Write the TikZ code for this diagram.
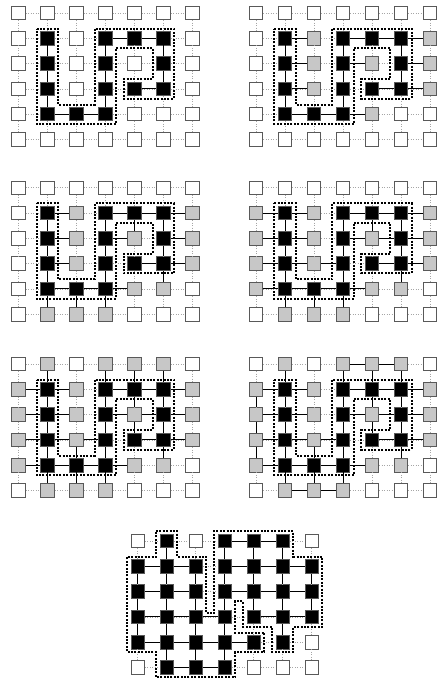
\documentclass[tikz,border=0pt]{standalone}
\usepackage{tikz}
\usetikzlibrary{calc}

\colorlet{cell0}{white}
\colorlet{cell1}{black}
\colorlet{cell2}{black!22}

\newcommand\gx{0.37}
\newcommand\gy{0.38}

% cell kinds, row by row: 0 empty, 1 black, 2 grey
\def\cellsA{{0,0,0,0,0,0,0, 0,1,0,1,1,1,0, 0,1,0,1,0,1,0, 0,1,0,1,1,1,0, 0,1,1,1,0,0,0, 0,0,0,0,0,0,0}}
\def\cellsB{{0,0,0,0,0,0,0, 0,1,2,1,1,1,2, 0,1,2,1,2,1,2, 0,1,2,1,1,1,2, 0,1,1,1,2,0,0, 0,0,0,0,0,0,0}}
\def\cellsC{{0,0,0,0,0,0,0, 0,1,2,1,1,1,2, 0,1,2,1,2,1,2, 0,1,2,1,1,1,2, 0,1,1,1,2,2,0, 0,2,2,2,0,0,0}}
\def\cellsD{{0,0,0,0,0,0,0, 2,1,2,1,1,1,2, 2,1,2,1,2,1,2, 2,1,2,1,1,1,2, 2,1,1,1,2,2,0, 0,2,2,2,0,0,0}}
\def\cellsE{{0,2,0,2,2,2,0, 2,1,2,1,1,1,2, 2,1,2,1,2,1,2, 2,1,2,1,1,1,2, 2,1,1,1,2,2,0, 0,2,2,2,0,0,0}}
\def\cellsG{{0,1,0,1,1,1,0, 1,1,1,1,1,1,1, 1,1,1,1,1,1,1, 1,1,1,1,1,1,1, 1,1,1,1,1,1,0, 0,1,1,1,0,0,0}}

% links: c/r joins (c,r) to its right (h) or lower (v) neighbour
\def\hA{3/1,4/1,4/3,1/4,2/4}
\def\vA{1/1,1/2,1/3,3/1,3/2,3/3,5/1,5/2}
\edef\hB{\hA,1/1,1/2,1/3,3/2,3/4,5/1,5/2,5/3}
\edef\vC{\vA,4/1,5/3,1/4,2/4,3/4}
\edef\hD{\hB,0/1,0/2,0/3,0/4,2/3,4/2}
\edef\vE{\vC,1/0,3/0,4/0,5/0,2/3,4/2}
\edef\hF{\hD,3/0,4/0,1/5,2/5}
\edef\vF{\vE,0/1,0/2,0/3}
\edef\vG{\vF,2/1,2/2,6/1,6/2}

\newcommand\drawgrid[4]{%
  \foreach \r in {0,...,5}
    \foreach \c in {0,...,6}{
      \pgfmathtruncatemacro\k{#2[\r*7+\c]}
      \node[sq, fill=cell\k] (#1-\c-\r) at (\c,\r) {};
    }
  \foreach \r in {0,...,5}
    \foreach \c [count=\cn] in {0,...,5}
      \draw[gridline] (#1-\c-\r) -- (#1-\cn-\r);
  \foreach \c in {0,...,6}
    \foreach \r [count=\rn] in {0,...,4}
      \draw[gridline] (#1-\c-\r) -- (#1-\c-\rn);
  \foreach \c/\r in #3{
    \pgfmathtruncatemacro\cn{\c+1}
    \draw[link] (#1-\c-\r) -- (#1-\cn-\r);
  }
  \foreach \c/\r in #4{
    \pgfmathtruncatemacro\rn{\r+1}
    \draw[link] (#1-\c-\r) -- (#1-\c-\rn);
  }
}

\tikzset{
  pics/snake fence/.style={code={
    \draw[fence] (1-\gx,1-\gy) -- (1+\gx,1-\gy) -- (1+\gx,4-\gy) -- (3-\gx,4-\gy)
      -- (3-\gx,1-\gy) -- (5+\gx,1-\gy) -- (5+\gx,3+\gy) -- (4-\gx,3+\gy)
      -- (4-\gx,3-\gy) -- (5-\gx,3-\gy) -- (5-\gx,1+\gy) -- (3+\gx,1+\gy)
      -- (3+\gx,4+\gy) -- (1-\gx,4+\gy) -- cycle;
  }}
}

\begin{document}
\begin{tikzpicture}[
    sq/.style={draw=black!65, line width=0.9pt, minimum size=13.5pt, inner sep=0pt},
    gridline/.style={draw=black!35, line width=0.5pt, dotted},
    link/.style={draw=black, line width=0.9pt},
    fence/.style={draw=black, line width=2pt, dash pattern=on 2pt off 1.4pt},
    grid at/.style={shift={#1}, x=29pt, y=-25.3pt}
  ]
  \useasboundingbox (0,0) rectangle (437pt,-679pt);

  \begin{scope}[grid at={(18.3pt,-13pt)}]
    \drawgrid{a}{\cellsA}{\hA}{\vA}
    \pic {snake fence};
  \end{scope}
  \begin{scope}[grid at={(256pt,-13pt)}]
    \drawgrid{b}{\cellsB}{\hB}{\vA}
    \pic {snake fence};
  \end{scope}
  \begin{scope}[grid at={(18.3pt,-187.7pt)}]
    \drawgrid{c}{\cellsC}{\hB}{\vC}
    \pic {snake fence};
  \end{scope}
  \begin{scope}[grid at={(256pt,-187.7pt)}]
    \drawgrid{d}{\cellsD}{\hD}{\vC}
    \pic {snake fence};
  \end{scope}
  \begin{scope}[grid at={(18.3pt,-364pt)}]
    \drawgrid{e}{\cellsE}{\hD}{\vE}
    \pic {snake fence};
  \end{scope}
  \begin{scope}[grid at={(256pt,-364pt)}]
    \drawgrid{f}{\cellsE}{\hF}{\vF}
    \pic {snake fence};
  \end{scope}
  \begin{scope}[grid at={(137.7pt,-541pt)}]
    \drawgrid{g}{\cellsG}{\hF}{\vG}
    \draw[fence] (1-\gx,-\gy) -- (1+\gx,-\gy) -- (1+\gx,1-\gy) -- (2+\gx,1-\gy)
      -- (2+\gx,2.86) -- (3-\gx,2.86) -- (3-\gx,-\gy) -- (5+\gx,-\gy)
      -- (5+\gx,1-\gy) -- (6+\gx,1-\gy) -- (6+\gx,3+\gy) -- (5+\gx,3+\gy)
      -- (5+\gx,4+\gy) -- (5-\gx,4+\gy) -- (5-\gx,3+\gy) -- (4-\gx,3+\gy)
      -- (4-\gx,2+\gy) -- (3+\gx,2+\gy) -- (3+\gx,4-\gy) -- (4+\gx,4-\gy)
      -- (4+\gx,4+\gy) -- (3+\gx,4+\gy) -- (3+\gx,5+\gy) -- (1-\gx,5+\gy)
      -- (1-\gx,4+\gy) -- (-\gx,4+\gy) -- (-\gx,1-\gy) -- (1-\gx,1-\gy) -- cycle;
  \end{scope}
\end{tikzpicture}
\end{document}
